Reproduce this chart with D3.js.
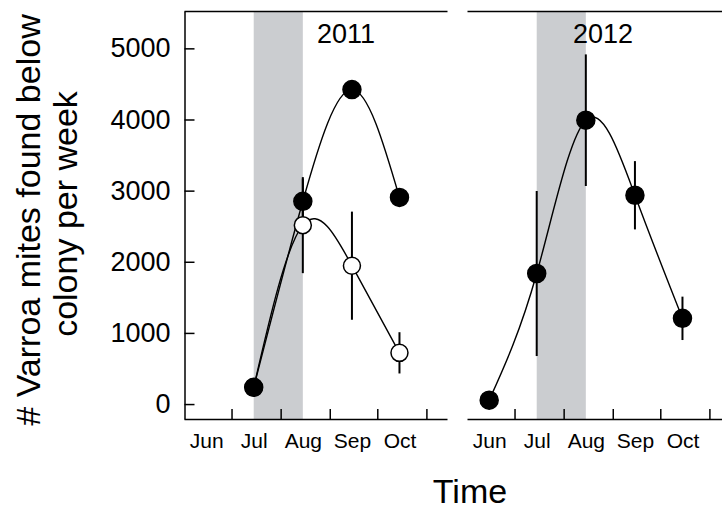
<!DOCTYPE html>
<html>
<head>
<meta charset="utf-8">
<script src="https://cdn.jsdelivr.net/npm/d3@7"></script>
<style>
body { margin: 0; background: #fff; }
svg { display: block; font-family: "Liberation Sans", Arial, sans-serif; }
.axis path, .axis line { stroke: #000; stroke-width: 1.5; }
.axis text { fill: #000; }
</style>
</head>
<body>
<div class="chart"></div>
<script>
// ------------------------- DATA

var monthLabels = ["Jun", "Jul", "Aug", "Sep", "Oct"];

var dates2011 = ["2011-07-15", "2011-08-15", "2011-09-15", "2011-10-15"];
var filled2011 = [235, 2850, 4420, 2905];
var filledErr2011 = [60, 320, 80, 70];
var open2011 = [235, 2515, 1945, 720];
var openErr2011 = [60, 675, 760, 290];

var dates2012 = ["2012-06-15", "2012-07-15", "2012-08-15", "2012-09-15", "2012-10-15"];
var filled2012 = [55, 1835, 3990, 2935, 1205];
var filledErr2012 = [60, 1160, 925, 480, 305];

var yTicks = [0, 1000, 2000, 3000, 4000, 5000];

var width = 722;
var height = 510;
var parse = d3.timeParse("%Y-%m-%d");

var svg = d3.select(".chart").append("svg")
  .attr("width", width)
  .attr("height", height);

// y scale shared by both panels
var y = d3.scaleLinear()
  .domain([-210, 5525])
  .range([419, 11]);

// --------------------------- Y AXIS (left panel only)

var yAxis = d3.axisLeft(y)
  .tickValues(yTicks)
  .tickFormat(d3.format("d"))
  .tickSizeInner(-10)
  .tickSizeOuter(0)
  .tickPadding(14);

svg.append("g")
  .attr("class", "axis y")
  .attr("transform", "translate(184.5,0)")
  .call(yAxis)
  .selectAll("text")
  .style("font-size", "27px");

// --------------------------- PANEL DRAWER

function drawPanel(year, x0, x1, yearX, dates, series) {
  var x = d3.scaleTime()
    .domain([new Date(year, 5, 1), new Date(year, 10, 14)])
    .range([x0, x1]);

  var g = svg.append("g");

  // shaded window mid-July to mid-August
  g.append("rect")
    .attr("x", x(new Date(year, 6, 15)))
    .attr("y", y.range()[1])
    .attr("width", x(new Date(year, 7, 15)) - x(new Date(year, 6, 15)))
    .attr("height", y.range()[0] - y.range()[1])
    .attr("fill", "#cbcdd0");

  // top frame line
  g.append("g")
    .attr("class", "axis top")
    .attr("transform", "translate(0," + y.range()[1] + ")")
    .call(d3.axisTop(x).tickValues([]).tickSizeOuter(0));

  // bottom axis: ticks at month boundaries
  var bounds = [6, 7, 8, 9, 10].map(function (m) { return new Date(year, m, 1); });
  g.append("g")
    .attr("class", "axis x")
    .attr("transform", "translate(0," + y.range()[0] + ")")
    .call(d3.axisBottom(x).tickValues(bounds).tickSizeInner(-10).tickSizeOuter(0).tickFormat(""));

  // month names in the middle of each month
  var mids = monthLabels.map(function (d, i) { return new Date(year, 5 + i, 15); });
  var lab = g.append("g")
    .attr("class", "axis xlab")
    .attr("transform", "translate(0," + y.range()[0] + ")")
    .call(d3.axisBottom(x).tickValues(mids).tickSize(0).tickPadding(14)
      .tickFormat(function (d, i) { return monthLabels[i]; }));
  lab.select(".domain").remove();
  lab.selectAll("text").style("font-size", "21px");

  // year label
  g.append("text")
    .attr("x", yearX)
    .attr("y", 43)
    .attr("text-anchor", "middle")
    .style("font-size", "27px")
    .text(year);

  var line = d3.line()
    .x(function (d) { return x(d.date); })
    .y(function (d) { return y(d.v); })
    .curve(d3.curveNatural);

  var pts = dates.map(parse);

  series.forEach(function (s) {
    var rows = s.values.map(function (v, i) {
      return { date: pts[i], v: v, e: s.err[i] };
    });

    g.append("path")
      .attr("fill", "none")
      .attr("stroke", "#000")
      .attr("stroke-width", 1.4)
      .attr("d", line(rows));

    s.rows = rows;
  });

  // error bars then markers, so markers sit on top
  series.forEach(function (s) {
    g.selectAll(null)
      .data(s.rows)
      .enter().append("line")
      .attr("x1", function (d) { return x(d.date); })
      .attr("x2", function (d) { return x(d.date); })
      .attr("y1", function (d) { return y(d.v - d.e); })
      .attr("y2", function (d) { return y(d.v + d.e); })
      .attr("stroke", "#000")
      .attr("stroke-width", 2);
  });

  series.forEach(function (s) {
    g.selectAll(null)
      .data(s.rows)
      .enter().append("circle")
      .attr("cx", function (d) { return x(d.date); })
      .attr("cy", function (d) { return y(d.v); })
      .attr("r", s.filled ? 9 : 8.5)
      .attr("fill", s.filled ? "#000" : "#fff")
      .attr("stroke", "#000")
      .attr("stroke-width", 1.5);
  });
}

// open series drawn first so the shared July point stays black
drawPanel(2011, 184, 447, 346, dates2011, [
  { values: open2011, err: openErr2011, filled: false },
  { values: filled2011, err: filledErr2011, filled: true }
]);

drawPanel(2012, 467, 730, 603, dates2012, [
  { values: filled2012, err: filledErr2012, filled: true }
]);

// --------------------------- AXIS TITLES

svg.append("text")
  .attr("x", 470)
  .attr("y", 503)
  .attr("text-anchor", "middle")
  .style("font-size", "34px")
  .text("Time");

var yTitle = svg.append("text")
  .attr("transform", "rotate(-90)")
  .attr("text-anchor", "middle")
  .style("font-size", "34px");

yTitle.append("tspan")
  .attr("x", -220)
  .attr("y", 40)
  .text("# Varroa mites found below");

yTitle.append("tspan")
  .attr("x", -214)
  .attr("y", 77)
  .text("colony per week");
</script>
</body>
</html>
